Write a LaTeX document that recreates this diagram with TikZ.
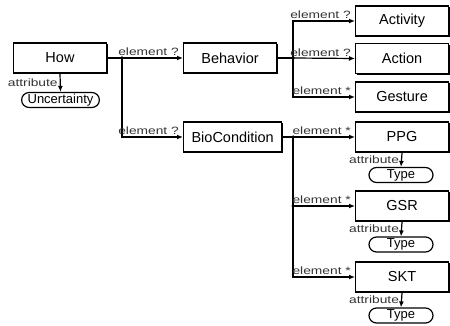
\documentclass[tikz,border=0pt]{standalone}
\usepackage{fontspec}
\setmainfont{Liberation Sans}
\newfontfamily\lblfont[FakeStretch=1.3]{Liberation Sans}
\usetikzlibrary{arrows.meta,shadows}

\tikzset{
  elem/.style={draw,line width=1.1pt,fill=white,minimum width=93pt,minimum height=30pt,
    inner xsep=8pt,font=\fontsize{14.5}{16}\selectfont,
    drop shadow={shadow xshift=1.3pt,shadow yshift=-1.3pt,opacity=1,fill=black}},
  attr/.style={draw,line width=1.2pt,fill=white,rounded corners=7.5pt,minimum width=64pt,
    minimum height=15pt,inner ysep=0pt,inner xsep=6pt,font=\fontsize{13}{14}\selectfont},
  lbl/.style={font=\lblfont\fontsize{10.6}{11}\selectfont,inner sep=1pt,text=black!80},
  conn/.style={line width=1.2pt,-{Latex[length=6pt,width=5pt]}},
  jdot/.style={circle,fill,inner sep=0pt,minimum size=3.5pt},
}

\begin{document}
\begin{tikzpicture}[x=1pt,y=-1pt]
\useasboundingbox (0,0) rectangle (450,326);

\node[elem] (how) at (60,58) {How};
\node[elem,anchor=west] (beh) at (183,58) {Behavior};
\node[elem,anchor=west] (bio) at (183,137) {BioCondition};

\node[elem,anchor=west] (act) at (355,21) {Activity};
\node[elem,anchor=west] (action) at (355,58.5) {Action};
\node[elem,anchor=west] (ges) at (355,97) {Gesture};
\node[elem,anchor=west] (ppg) at (355,137) {PPG};
\node[elem,anchor=west] (gsr) at (355,206) {GSR};
\node[elem,anchor=west] (skt) at (355,277) {SKT};

\node[attr] (unc) at (60.5,100) {Uncertainty};
\node[attr] (ppgtype) at (401,175) {Type};
\node[attr] (gsrtype) at (401,244.5) {Type};
\node[attr] (skttype) at (401,315.5) {Type};

\coordinate (j1) at (122,58);
\coordinate (j2) at (293,58);
\coordinate (j3) at (293,137);
\coordinate (j4) at (293,206);

\draw[conn] (how.east) -- (beh.west);
\draw[conn] (j1) |- (bio.west);
\draw[line width=1.2pt] (beh.east) -- (j2);
\draw[conn] (j2) |- (act.west);
\draw[conn] (j2) -- (action.west);
\draw[conn] (j2) |- (ges.west);
\draw[conn] (bio.east) -- (ppg.west);
\draw[conn] (j3) |- (gsr.west);
\draw[conn] (j3) |- (skt.west);

\node[jdot] at (j1) {};
\node[jdot] at (j2) {};
\node[jdot] at (j3) {};
\node[jdot] at (j4) {};

\node[lbl,anchor=south east] at ([xshift=-3pt,yshift=1pt]beh.west) {element ?};
\node[lbl,anchor=south east] at ([xshift=-3pt,yshift=1pt]bio.west) {element ?};
\node[lbl,anchor=south east] at ([xshift=-3pt,yshift=1pt]act.west) {element ?};
\node[lbl,anchor=south east] at ([xshift=-3pt,yshift=1pt]action.west) {element ?};
\node[lbl,anchor=south east] at ([xshift=-3pt,yshift=1pt]ges.west) {element *};
\node[lbl,anchor=south east] at ([xshift=-3pt,yshift=1pt]ppg.west) {element *};
\node[lbl,anchor=south east] at ([xshift=-3pt,yshift=1pt]gsr.west) {element *};
\node[lbl,anchor=south east] at ([xshift=-3pt,yshift=1pt]skt.west) {element *};

\draw[conn] (how.south) -- (unc.north) node[lbl,midway,anchor=east,xshift=-1pt] {attribute};
\draw[conn] (ppg.south) -- (ppgtype.north) node[lbl,midway,anchor=east,xshift=-1pt] {attribute};
\draw[conn] (gsr.south) -- (gsrtype.north) node[lbl,midway,anchor=east,xshift=-1pt] {attribute};
\draw[conn] (skt.south) -- (skttype.north) node[lbl,midway,anchor=east,xshift=-1pt] {attribute};

\end{tikzpicture}
\end{document}
